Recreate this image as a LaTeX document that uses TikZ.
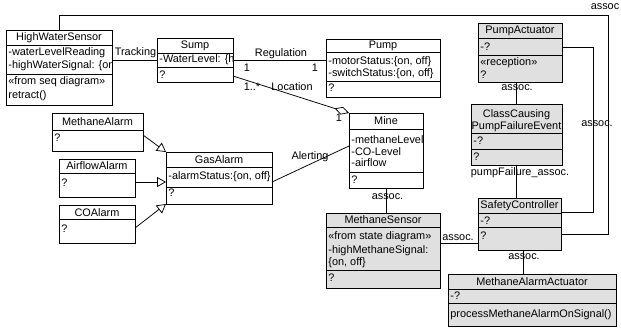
\documentclass[tikz,border=0pt]{standalone}
\usepackage{fontspec}
\setmainfont{Liberation Sans}
\usepackage{tikz}
\usetikzlibrary{arrows.meta,calc}
\newcommand{\umlfont}{\fontsize{10.9}{12}\selectfont}
\colorlet{boxgray}{gray!24}
\tikzset{classbox/.style={draw,inner sep=0pt,outer sep=0pt}}
\tikzset{ctext/.style={font=\umlfont,inner sep=0pt,anchor=west}}
\tikzset{ctitle/.style={font=\umlfont,inner sep=0pt,align=center}}
\tikzset{lbl/.style={font=\umlfont,inner sep=0pt}}
\tikzset{gen/.style={-{Triangle[open,length=9pt,width=10pt]}}}
\tikzset{agg/.style={-{Diamond[open,length=15pt,width=8pt]}}}
% class box: name, left, top, right, bottom, fill, separators
\newcommand{\umlbox}[7]{%
    \node[classbox,fill=#6,anchor=north west,minimum width={(#4-#2)*1pt},
          minimum height={(#5-#3)*1pt}] (#1) at (#2,#3) {};
    \foreach \s in {#7} \draw (#2,\s) -- (#4,\s);}

\begin{document}
\begin{tikzpicture}[x=1pt,y=-1pt,line width=0.75pt]
    \useasboundingbox (0,0) rectangle (621,330);

    % HighWaterSensor
    \umlbox{hws}{6}{30}{112}{105}{white}{45,74}
    \node[ctitle] (hws-t) at (59,37.5) {HighWaterSensor};
    \node[ctext] (hws-a1) at (8,53) {-waterLevelReading};
    \begin{scope}
        \clip (hws.north west) rectangle (hws.south east);
        \node[ctext] (hws-a2) at (8,66) {-highWaterSignal: \{on};
    \end{scope}
    \node[ctext] (hws-o1) at (8,82) {«from seq diagram»};
    \node[ctext] (hws-o2) at (8,96) {retract()};

    % Sump
    \umlbox{sump}{157}{38}{233}{82}{white}{53,67}
    \node[ctitle] (sump-t) at (195,45.5) {Sump};
    \begin{scope}
        \clip (sump.north west) rectangle (sump.south east);
        \node[ctext] (sump-a1) at (159,60) {-WaterLevel: \{h};
    \end{scope}
    \node[ctext] (sump-o1) at (159,75) {?};

    % Pump
    \umlbox{pump}{326}{39}{440}{97}{white}{52,81}
    \node[ctitle] (pump-t) at (383,46) {Pump};
    \node[ctext] (pump-a1) at (328,62) {-motorStatus:\{on, off\}};
    \node[ctext] (pump-a2) at (328,74) {-switchStatus:\{on, off\}};
    \node[ctext] (pump-o1) at (328,88) {?};

    % Mine
    \umlbox{mine}{349}{113}{423}{188}{white}{129,172}
    \node[ctitle] (mine-t) at (386,121) {Mine};
    \begin{scope}
        \clip (mine.north west) rectangle (mine.south east);
        \node[ctext] (mine-a1) at (351,140) {-methaneLevel};
    \end{scope}
    \node[ctext] (mine-a2) at (351,152) {-CO-Level};
    \node[ctext] (mine-a3) at (351,163) {-airflow};
    \node[ctext] (mine-o1) at (351,180) {?};

    % Alarms
    \umlbox{malarm}{52}{113}{143}{151}{white}{130}
    \node[ctitle] (malarm-t) at (97.5,121.5) {MethaneAlarm};
    \node[ctext] (malarm-o1) at (54,138) {?};
    \umlbox{aalarm}{59}{159}{135}{197}{white}{173}
    \node[ctitle] (aalarm-t) at (97,166) {AirflowAlarm};
    \node[ctext] (aalarm-o1) at (61,183) {?};
    \umlbox{coalarm}{59}{205}{135}{243}{white}{219}
    \node[ctitle] (coalarm-t) at (97,212.5) {COAlarm};
    \node[ctext] (coalarm-o1) at (61,229) {?};
    \umlbox{gas}{166}{152}{272}{204}{white}{167,187}
    \node[ctitle] (gas-t) at (219,160) {GasAlarm};
    \node[ctext] (gas-a1) at (168,177) {-alarmStatus:\{on, off\}};
    \node[ctext] (gas-o1) at (168,193) {?};

    % PumpActuator
    \umlbox{pa}{478}{23}{562}{82}{boxgray}{38,55}
    \node[ctitle] (pa-t) at (520,31) {PumpActuator};
    \node[ctext] (pa-a1) at (480,47) {-?};
    \node[ctext] (pa-o1) at (480,63) {«reception»};
    \node[ctext] (pa-o2) at (480,75) {?};

    % ClassCausingPumpFailureEvent
    \umlbox{cc}{471}{104}{562}{165}{boxgray}{133,149}
    \node[ctitle] (cc-t) at (516.5,121) {ClassCausing\\PumpFailureEvent};
    \node[ctext] (cc-a1) at (473,141) {-?};
    \node[ctext] (cc-o1) at (473,157) {?};

    % SafetyController
    \umlbox{safe}{478}{198}{561}{250}{boxgray}{213,227}
    \node[ctitle] (safe-t) at (519.5,206) {SafetyController};
    \node[ctext] (safe-a1) at (480,221) {-?};
    \node[ctext] (safe-o1) at (480,236) {?};

    % MethaneSensor
    \umlbox{sensor}{326}{213}{440}{288}{boxgray}{227,270}
    \node[ctitle] (sensor-t) at (383,220) {MethaneSensor};
    \node[ctext] (sensor-a1) at (328,237) {«from state diagram»};
    \node[ctext] (sensor-a2) at (328,251) {-highMethaneSignal:};
    \node[ctext] (sensor-a3) at (328,263) {\{on, off\}};
    \node[ctext] (sensor-o1) at (328,278) {?};

    % MethaneAlarmActuator
    \umlbox{maa}{448}{274}{616}{326}{boxgray}{289,303}
    \node[ctitle] (maa-t) at (532,281.5) {MethaneAlarmActuator};
    \node[ctext] (maa-a1) at (450,296) {-?};
    \node[ctext] (maa-o1) at (450,315) {processMethaneAlarmOnSignal()};

    % Tracking, Regulation, Location
    \draw (hws.east |- sump-a1) -- (sump.west |- sump-a1);
    \draw (sump.east |- sump-a1) -- (pump.west |- sump-a1);
    \draw[agg] ($(sump.south east)+(0,-6)$) -- (mine.north west);

    % Generalisation
    \draw[gen] ($(malarm.east)+(0,3)$) -- (gas.north west);
    \draw[gen] ($(aalarm.east)+(0,4)$) -- ($(gas.west)+(0,4)$);
    \draw[gen] ($(coalarm.east)+(0,4)$) -- (gas.south west);

    % Alerting
    \draw ($(gas.east)+(0,4)$) -- ($(mine.west)+(0,-4.5)$);

    % Associations
    \draw (mine.south) -- (mine.south |- sensor.north);
    \draw ($(sensor.east)+(0,-7.5)$) -- ($(safe.west)+(0,19)$);
    \draw ($(safe.south)+(4,0)$) coordinate (safe-b) -- (safe-b |- maa.north);
    \draw (cc.north |- pa.south) -- (cc.north);
    \draw (cc.south) -- (cc.south |- safe.north);
    \draw (pa.east |- pa-a1) -- ++(31,0) |- ($(safe.north east)+(0,14)$);
    \coordinate (topright) at (608,15);
    \draw (hws.north) |- (topright) |- ($(safe.north east)+(0,36)$);

    % Labels
    \node[lbl] (l-track) at (135.5,53) {Tracking};
    \node[lbl] (l-reg) at (281,54) {Regulation};
    \node[lbl] (l-reg1) at (247,68) {1};
    \node[lbl] (l-reg2) at (315,68) {1};
    \node[lbl] (l-loc1) at (252,87) {1..*};
    \node[lbl] (l-loc) at (292,87) {Location};
    \node[lbl] (l-loc2) at (339,118) {1};
    \node[lbl] (l-alert) at (310,157) {Alerting};
    \node[lbl] (l-mine) at (387.5,197) {assoc.};
    \node[lbl] (l-sensor) at (458,238) {assoc.};
    \node[lbl] (l-safe) at (524,257) {assoc.};
    \node[lbl] (l-pa) at (517,88) {assoc.};
    \node[lbl] (l-pf) at (520,173) {pumpFailure\_assoc.};
    \node[lbl] (l-right) at (597,124) {assoc.};
    \node[lbl] (l-top) at (605,7) {assoc};
\end{tikzpicture}
\end{document}
